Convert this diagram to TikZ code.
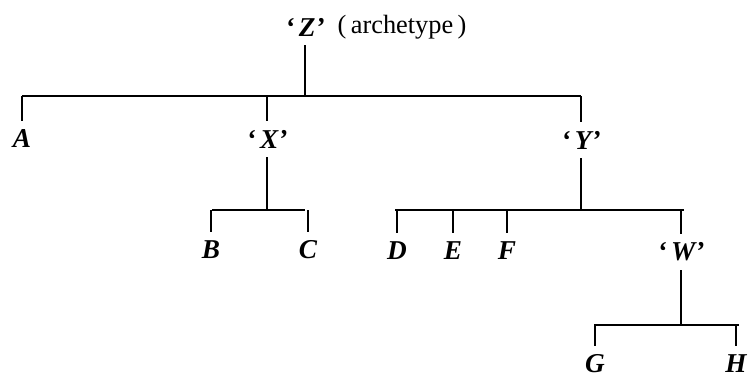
\documentclass[tikz,border=0pt]{standalone}
\usepackage{fontspec}
\setmainfont{Liberation Serif}
\tikzset{
  wit/.style={font=\fontsize{15.5}{17}\selectfont\bfseries\itshape, inner sep=5pt},
  stem/.style={line width=0.8pt}
}
\begin{document}
\begin{tikzpicture}[x=0.2mm,y=-0.2mm]
  \useasboundingbox (0,0) rectangle (748,378);
  % archetype and the two lost hyparchetypes
  \node[wit] (Z) at (305,27) {`\,Z'};
  \node[font=\fontsize{15}{17}\selectfont, anchor=west, inner sep=2pt] (arch) at (Z.east) {(\,archetype\,)};
  \node[wit] (A) at (22,139) {A};
  \node[wit] (X) at (267,139) {`\,X'};
  \node[wit] (Y) at (581,140) {`\,Y'};
  % extant witnesses
  \node[wit] (B) at (211,250) {B};
  \node[wit] (C) at (308,250) {C};
  \node[wit] (D) at (397,251) {D};
  \node[wit] (E) at (453,251) {E};
  \node[wit] (F) at (507,251) {F};
  \node[wit] (W) at (681,252) {`\,W'};
  \node[wit] (G) at (595,364) {G};
  \node[wit] (H) at (736,364) {H};
  % bars
  \coordinate (zl) at (22,96);  \coordinate (zr) at (581,96);
  \coordinate (xl) at (212,210); \coordinate (xr) at (305,210);
  \coordinate (yl) at (395,210); \coordinate (yr) at (684,210);
  \coordinate (wl) at (594,325); \coordinate (wr) at (739,325);
  \draw[stem] (zl) -- (zr);
  \draw[stem] (xl) -- (xr);
  \draw[stem] (yl) -- (yr);
  \draw[stem] (wl) -- (wr);
  % stems
  \draw[stem] (Z) -- (Z |- zl);
  \draw[stem] (A) -- (A |- zl);
  \draw[stem] (X) -- (X |- zl);
  \draw[stem] (Y) -- (Y |- zl);
  \draw[stem] (X) -- (X |- xl);
  \draw[stem] (B) -- (B |- xl);
  \draw[stem] (C) -- (C |- xl);
  \draw[stem] (Y) -- (Y |- yl);
  \draw[stem] (D) -- (D |- yl);
  \draw[stem] (E) -- (E |- yl);
  \draw[stem] (F) -- (F |- yl);
  \draw[stem] (W) -- (W |- yl);
  \draw[stem] (W) -- (W |- wl);
  \draw[stem] (G) -- (G |- wl);
  \draw[stem] (H) -- (H |- wl);
\end{tikzpicture}
\end{document}
